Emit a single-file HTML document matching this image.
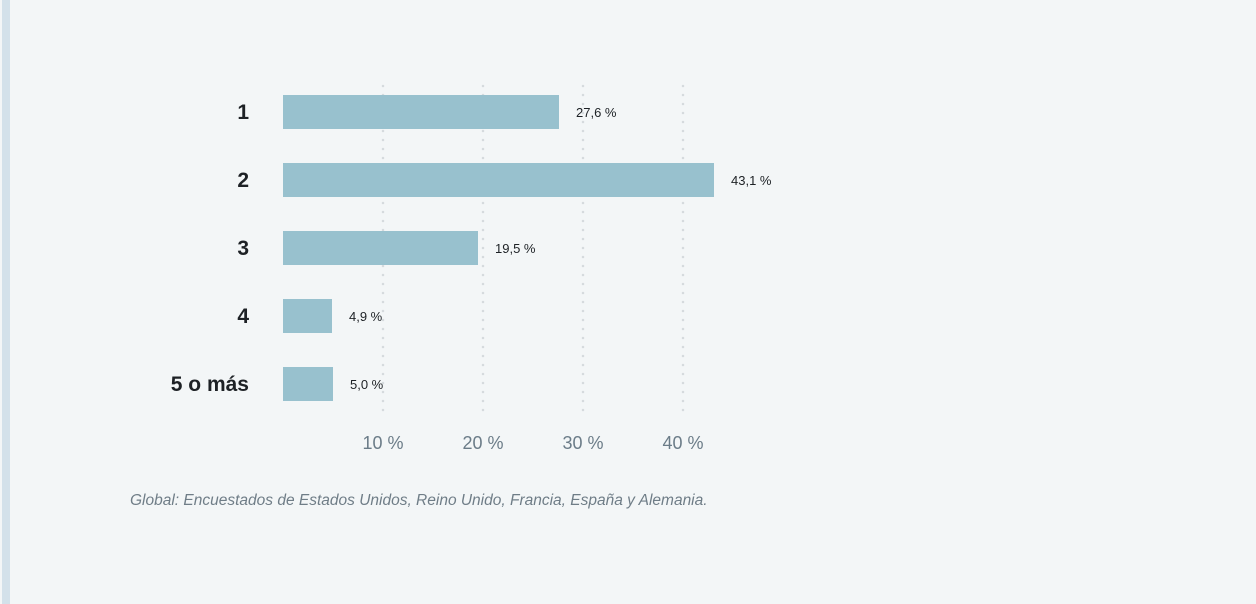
<!DOCTYPE html>
<html><head><meta charset="utf-8"><style>
html,body{margin:0;padding:0;}
body{width:1256px;height:604px;background:#f3f6f7;position:relative;overflow:hidden;font-family:"Liberation Sans",sans-serif;}
#strip{position:absolute;left:2px;top:0;width:8px;height:604px;background:#d3e1ea;}
#caption{position:absolute;left:130px;top:492px;font-size:15.5px;font-style:italic;color:#6f7d87;}
</style></head><body>
<div id="strip"></div>
<svg id="chart" width="1256" height="604" style="position:absolute;left:0;top:0"></svg>
<div id="caption">Global: Encuestados de Estados Unidos, Reino Unido, Francia, España y Alemania.</div>
<script>
const categories = ["1","2","3","4","5 o más"];
const values = [27.6,43.1,19.5,4.9,5.0];
const valueLabels = ["27,6 %","43,1 %","19,5 %","4,9 %","5,0 %"];
const ticks = [10,20,30,40];
const tickLabels = ["10 %","20 %","30 %","40 %"];

const NS="http://www.w3.org/2000/svg";
const svg=document.getElementById('chart');
const x0=283, pxPer=10, rowTop=95, pitch=68, barH=34;
const xs=v=>x0+v*pxPer;
const ys=i=>rowTop+i*pitch;
function mk(t,a){const e=document.createElementNS(NS,t);for(const k in a)e.setAttribute(k,a[k]);svg.appendChild(e);return e;}
ticks.forEach((t,i)=>{
  const g=mk('line',{x1:xs(t),x2:xs(t),y1:86,y2:418,stroke:'#d5dadd','stroke-width':2.5,'stroke-dasharray':'0 9','stroke-linecap':'round'});
  
  
  const tl=mk('text',{x:xs(t),y:449,'text-anchor':'middle','font-size':18,fill:'#6b7c88'});
  tl.textContent=tickLabels[i];
  
  
});
categories.forEach((c,i)=>{
  const y=ys(i);
  const r=mk('rect',{x:x0,y:y,width:values[i]*pxPer,height:barH,fill:'#98c1ce'});
  
  
  const l=mk('text',{x:249,y:y+barH/2+7,'text-anchor':'end','font-size':21,'font-weight':'bold',fill:'#1d2125'});
  l.textContent=c;
  
  
  const v=mk('text',{x:xs(values[i])+17,y:y+barH/2+5,'font-size':13,fill:'#1d2125'});
  v.textContent=valueLabels[i];
  
  
});
</script>
</body></html>
